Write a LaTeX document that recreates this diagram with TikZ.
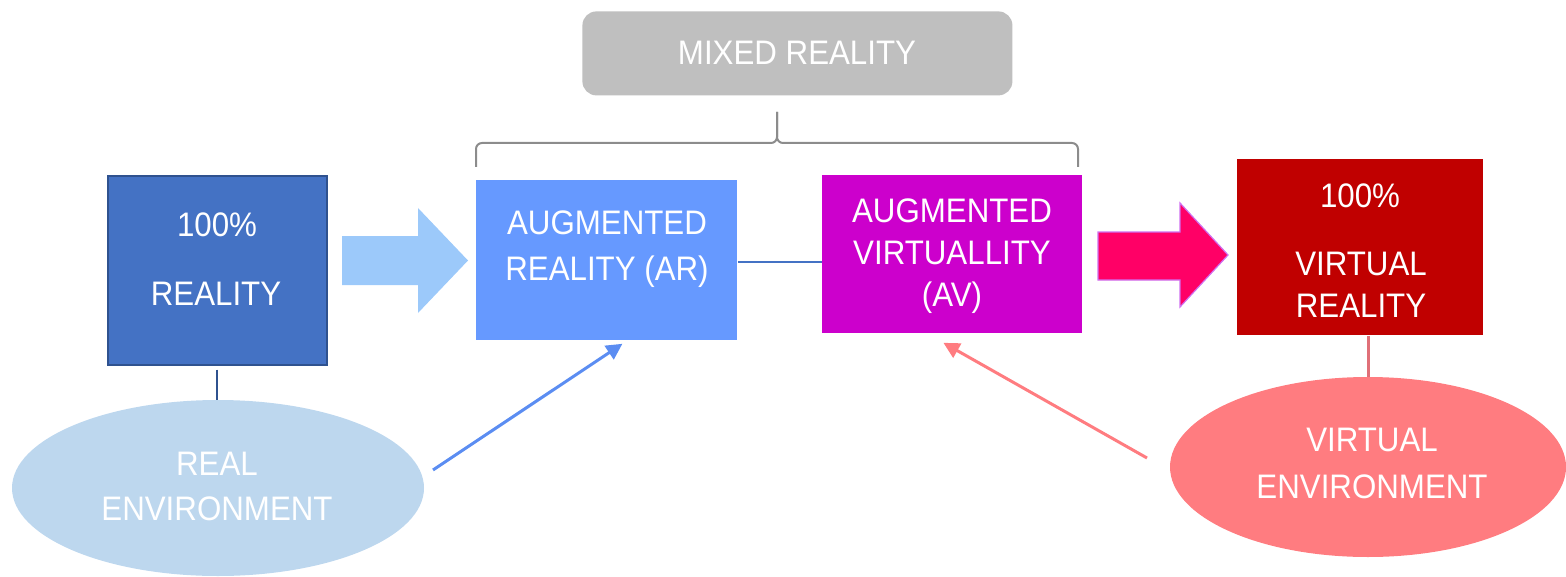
\documentclass[tikz,border=0pt]{standalone}
\usepackage{fontspec}
\setmainfont{Liberation Sans}[FakeStretch=0.92]
\usetikzlibrary{arrows.meta,calc,shapes.geometric}

\definecolor{realblue}{HTML}{4472C4}
\definecolor{realedge}{HTML}{2F528F}
\definecolor{arrowblue}{HTML}{9CC9FA}
\definecolor{arblue}{HTML}{6699FF}
\definecolor{avpurple}{HTML}{CC00CC}
\definecolor{arrowpink}{HTML}{FF0066}
\definecolor{pinkglow}{HTML}{D070F0}
\definecolor{vrred}{HTML}{C00000}
\definecolor{vesalmon}{HTML}{FF7C80}
\definecolor{relight}{HTML}{BDD7EE}
\definecolor{mixgray}{HTML}{BFBFBF}
\definecolor{bracegray}{HTML}{8C8C8C}
\definecolor{lineblue}{HTML}{5B8DF2}
\definecolor{vrline}{HTML}{E07078}

\tikzset{
  px/.style={x=0.5pt,y=-0.5pt},
  boxshape/.style={rectangle,inner sep=0pt,anchor=north west},
  lbl/.style={text=white,font=\fontsize{17}{21}\selectfont,align=center,inner sep=0pt},
  envshape/.style={ellipse,inner sep=0pt},
  link/.style={line width=1.1pt},
  pointer/.style={line width=1.5pt,-{Triangle[length=8pt,width=8pt]}}
}

\begin{document}
\begin{tikzpicture}[px]
\useasboundingbox (0,0) rectangle (1566,577);

% main boxes
\node[boxshape,fill=realblue,draw=realedge,line width=0.8pt,
      minimum width=219pt*0.5,minimum height=189pt*0.5] (real) at (107,175) {};
\node[boxshape,fill=arblue,minimum width=261pt*0.5,minimum height=160pt*0.5] (ar) at (476,180) {};
\node[boxshape,fill=avpurple,minimum width=260pt*0.5,minimum height=158pt*0.5] (av) at (822,175) {};
\node[boxshape,fill=vrred,minimum width=246pt*0.5,minimum height=176pt*0.5] (vr) at (1237,159) {};
\node[boxshape,fill=mixgray,rounded corners=7pt,minimum width=430pt*0.5,minimum height=84pt*0.5] (mixed) at (582,11) {};

% box texts
\node[lbl] (realpct) at (217,225) {100\%};
\node[lbl] (realtxt) at (216,294) {REALITY};
\node[lbl,font=\fontsize{17}{23}\selectfont] (artxt) at (607,249) {AUGMENTED\\REALITY (AR)};
\node[lbl] (avtxt) at (952,256) {AUGMENTED\\VIRTUALLITY\\(AV)};
\node[lbl] (vrpct) at (1360,196) {100\%};
\node[lbl] (vrtxt) at (1361,285) {VIRTUAL\\REALITY};
\node[lbl] (mixtxt) at (797,53) {MIXED REALITY};

% environments
\node[envshape,fill=relight,minimum width=412pt*0.5,minimum height=176pt*0.5] (re) at (218,488) {};
\node[lbl,font=\fontsize{17}{22.5}\selectfont] (retxt) at (217,486) {REAL\\ENVIRONMENT};
\node[envshape,fill=vesalmon,minimum width=396pt*0.5,minimum height=180pt*0.5] (ve) at (1368,467) {};
\node[lbl,font=\fontsize{17}{23.5}\selectfont] (vetxt) at (1372,463) {VIRTUAL\\ENVIRONMENT};

% block arrows
\fill[arrowblue] (342,236) -- (418,236) -- (418,208) -- (468,260.5) -- (418,313)
  -- (418,285) -- (342,285) -- cycle;
\filldraw[fill=arrowpink,draw=pinkglow,line width=0.6pt] (1098,232) -- (1180,232) -- (1180,203)
  -- (1228,255) -- (1180,307) -- (1180,280) -- (1098,280) -- cycle;

% bracket over the mixed-reality pair
\draw[bracegray,line width=1pt,rounded corners=3pt]
  (476,167) -- (476,143) -- (777,143) -- (777,112);
\draw[bracegray,line width=1pt,rounded corners=3pt]
  (1078,167) -- (1078,143) -- (777,143) -- (777,112);

% connectors
\draw[realedge,link] (real.south) ++(0,4) coordinate (realfoot) -- (realfoot |- re.north);
\draw[realblue,link] (ar.east |- 0,262) coordinate (arside) -- (av.west |- arside);
\draw[vrline,link] ($(vr.south)+(8,0)$) coordinate (vrfoot) -- (vrfoot |- ve.north);
\coordinate (reout) at (433,470);
\coordinate (veout) at (1147,458);
\draw[lineblue,pointer] (reout) -- ($(ar.south)+(15.5,3)$);
\draw[vesalmon,pointer] (veout) -- ($(av.south)+(-9,9)$);
\end{tikzpicture}
\end{document}
